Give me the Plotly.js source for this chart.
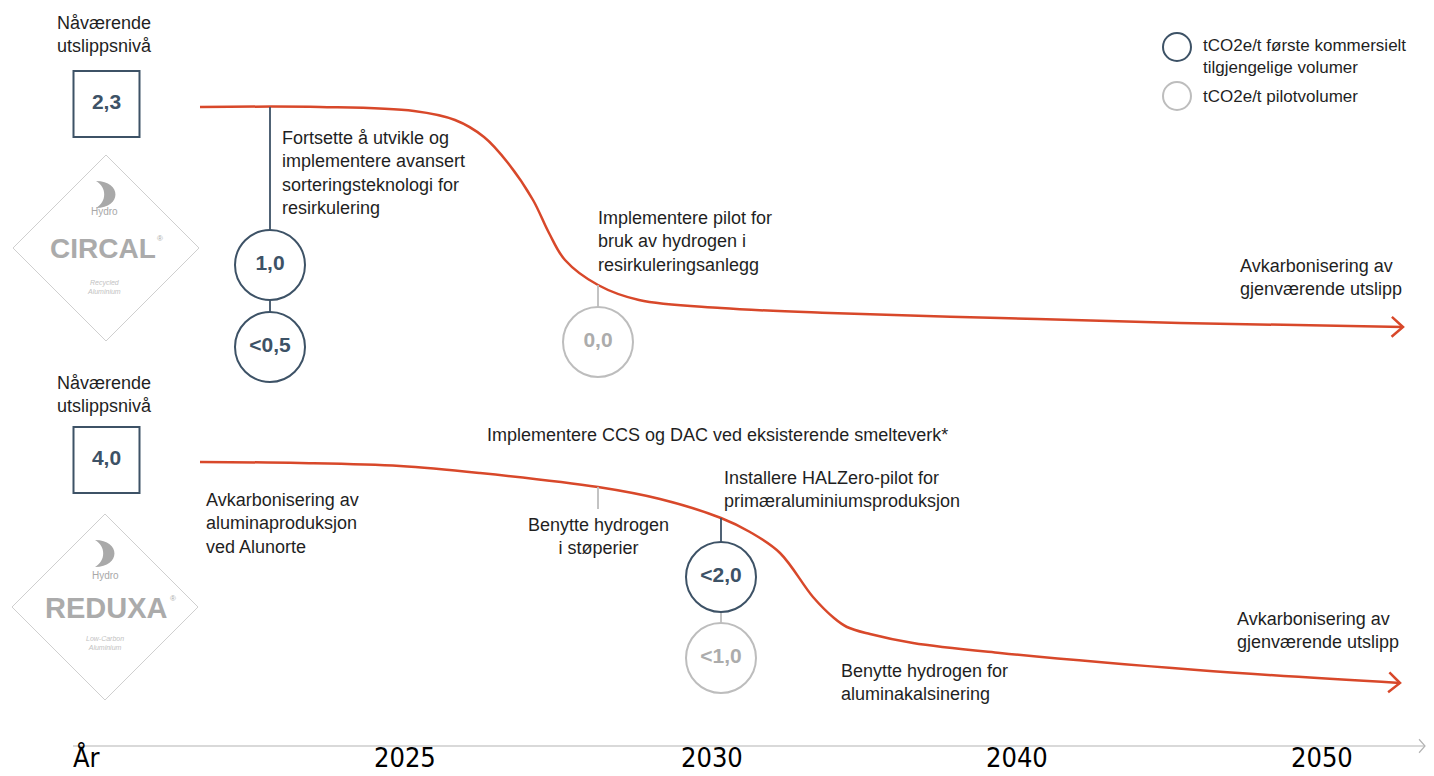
<!DOCTYPE html>
<html>
<head>
<meta charset="utf-8">
<script src="https://cdn.plot.ly/plotly-3.0.1.min.js"></script>
<style>
  html, body { margin: 0; padding: 0; background: #ffffff; }
  #chart { width: 1434px; height: 776px; }
</style>
</head>
<body>
<div id="chart"></div>
<script>
// Roadmap chart: emission path for CIRCAL (top) and REDUXA (bottom)
// The plot area is laid out on a 1434 x 776 canvas grid (x right, y down).

// --- data -------------------------------------------------------------

// timeline tick labels along the bottom axis
const yearLabels = ['2025', '2030', '2040', '2050'];
const yearPos = [405, 712, 1017, 1322];

// current emission level (tCO2e/t) for each product
const currentLevels = ['2,3', '4,0'];
const currentLevelY = [104, 460];

// CIRCAL path (top curve)
const circalX = [200, 320, 414, 455, 484, 508, 533, 549, 565, 598, 639, 721, 830, 1000, 1180, 1403];
const circalY = [107, 107, 111, 120, 137, 163, 200, 233, 260, 285, 300, 308, 313, 318, 323, 327];

// REDUXA path (bottom curve)
const reduxaX = [200, 300, 400, 480, 598, 660, 721, 750, 780, 813, 834, 847, 870, 913, 1000, 1197, 1400];
const reduxaY = [462, 463, 466, 473, 487, 499, 518, 532, 553, 597, 618, 627, 634, 643, 653, 670, 683];

// milestone values (circles); kind: 'commercial' or 'pilot'
const milestoneX = [270, 270, 598, 721, 721];
const milestoneY = [265, 347, 342, 577, 658];
const milestoneLabel = ['1,0', '<0,5', '0,0', '<2,0', '<1,0'];
const milestoneKind = ['commercial', 'commercial', 'pilot', 'commercial', 'pilot'];

// stems joining curve and milestones
const stemX = [270, 598, 598, 721, 721];
const stemFrom = [107, 285, 487, 518, 577];
const stemTo = [347, 342, 509, 577, 658];
const stemKind = ['commercial', 'pilot', 'pilot', 'commercial', 'pilot'];

// --- styles -----------------------------------------------------------

const FONT = 'Liberation Sans, Arial, Helvetica, sans-serif';
const NARROW = "'Liberation Sans Narrow', 'Arial Narrow', 'DejaVu Sans Condensed', sans-serif";
const RED = '#d8482a';
const DARK = '#3d5266';
const GRAY = '#bdbdbd';
const GRAY_TEXT = '#acacac';
const TEXT = '#1f1f1f';
const kindColor = { commercial: DARK, pilot: GRAY };
const kindText = { commercial: DARK, pilot: GRAY_TEXT };

// --- traces -----------------------------------------------------------

const traces = [];

// emission curves
[[circalX, circalY], [reduxaX, reduxaY]].forEach(([xs, ys]) => {
    traces.push({
        x: xs, y: ys, type: 'scatter', mode: 'lines',
        line: { color: RED, width: 2.5, shape: 'spline', smoothing: 1 },
        hoverinfo: 'skip'
    });
});

// stems
stemX.forEach((x, i) => {
    traces.push({
        x: [x, x], y: [stemFrom[i], stemTo[i]], type: 'scatter', mode: 'lines',
        line: { color: kindColor[stemKind[i]], width: 1.8 },
        hoverinfo: 'skip'
    });
});

// milestone circles
traces.push({
    x: milestoneX, y: milestoneY, type: 'scatter', mode: 'markers+text',
    text: milestoneLabel, textposition: 'middle center',
    textfont: { family: FONT, size: 21, weight: 'bold', color: milestoneKind.map(k => kindText[k]) },
    marker: {
        symbol: 'circle', size: 70, color: '#ffffff',
        line: { width: 2, color: milestoneKind.map(k => kindColor[k]) }
    },
    hoverinfo: 'skip'
});

// current level boxes
traces.push({
    x: currentLevelY.map(() => 106.5), y: currentLevelY, type: 'scatter', mode: 'markers+text',
    text: currentLevels, textposition: 'middle center',
    textfont: { family: FONT, size: 21, weight: 'bold', color: DARK },
    marker: { symbol: 'square', size: 66, color: '#ffffff', line: { width: 2, color: DARK } },
    hoverinfo: 'skip'
});

// legend circles
traces.push({
    x: [1177, 1177], y: [47, 96], type: 'scatter', mode: 'markers',
    marker: { symbol: 'circle', size: 28, color: '#ffffff', line: { width: 2, color: [DARK, GRAY] } },
    hoverinfo: 'skip'
});

// --- shapes -----------------------------------------------------------

/**
 * Open chevron at the end of a polyline, pointing along its last segment
 */
function chevron(xs, ys, len, spread, color, width) {
    const n = xs.length;
    const tx = xs[n - 1], ty = ys[n - 1];
    const a = Math.atan2(ty - ys[n - 2], tx - xs[n - 2]) + Math.PI;
    const p1 = [tx + len * Math.cos(a + spread), ty + len * Math.sin(a + spread)];
    const p2 = [tx + len * Math.cos(a - spread), ty + len * Math.sin(a - spread)];
    return {
        type: 'path', layer: 'above',
        path: `M${p1[0]},${p1[1]} L${tx},${ty} L${p2[0]},${p2[1]}`,
        line: { color: color, width: width }
    };
}

/**
 * Diamond badge outline with a Hydro crescent
 */
function badge(cx, cy, half) {
    return [
        {
            type: 'path', layer: 'below',
            path: `M${cx},${cy - half} L${cx + half},${cy} L${cx},${cy + half} L${cx - half},${cy} Z`,
            line: { color: '#cfcfcf', width: 1 }, fillcolor: '#ffffff'
        },
        {
            type: 'path', layer: 'below',
            path: `M${cx - 10},${cy - 67} C${cx + 16},${cy - 67} ${cx + 16},${cy - 40} ${cx - 10},${cy - 40} ` +
                  `C${cx + 1},${cy - 46} ${cx + 1},${cy - 61} ${cx - 10},${cy - 67} Z`,
            line: { width: 0 }, fillcolor: '#a9a9a9'
        }
    ];
}

const axisX = [73, 1425];
const axisY = [746, 746];

const shapes = [
    ...badge(106, 248, 93),
    ...badge(105, 607, 93),
    {
        type: 'line', x0: axisX[0], x1: axisX[1], y0: axisY[0], y1: axisY[1],
        line: { color: '#b3b3b3', width: 1.2 }
    },
    chevron(axisX, axisY, 9, 0.85, '#b3b3b3', 1.2),
    chevron(circalX, circalY, 15, 0.72, RED, 2.5),
    chevron(reduxaX, reduxaY, 15, 0.72, RED, 2.5)
];

// --- annotations ------------------------------------------------------

function note(x, y, text, opts = {}) {
    return Object.assign({
        x: x, y: y, text: text, showarrow: false,
        xanchor: 'left', yanchor: 'middle', align: 'left',
        font: { family: FONT, size: 18, color: TEXT }
    }, opts);
}

const yearFont = { family: NARROW, size: 27, color: '#000000' };

const annotations = [
    note(104, 34, 'Nåværende<br>utslippsnivå', { xanchor: 'center', align: 'center' }),
    note(104, 394, 'Nåværende<br>utslippsnivå', { xanchor: 'center', align: 'center' }),

    note(280, 173, 'Fortsette å utvikle og<br>implementere avansert<br>sorteringsteknologi for<br>resirkulering'),
    note(596, 241, 'Implementere pilot for<br>bruk av hydrogen i<br>resirkuleringsanlegg'),
    note(1238, 277, 'Avkarbonisering av<br>gjenværende utslipp'),

    note(204, 523, 'Avkarbonisering av<br>aluminaproduksjon<br>ved Alunorte'),
    note(485, 435, 'Implementere CCS og DAC ved eksisterende smelteverk*'),
    note(598, 536, 'Benytte hydrogen<br>i støperier', { xanchor: 'center', align: 'center' }),
    note(722, 489, 'Installere HALZero-pilot for<br>primæraluminiumsproduksjon'),
    note(839, 682, 'Benytte hydrogen for<br>aluminakalsinering'),
    note(1235, 630, 'Avkarbonisering av<br>gjenværende utslipp'),

    // legend
    note(1201, 56, 'tCO2e/t første kommersielt<br>tilgjengelige volumer', { font: { family: FONT, size: 17, color: TEXT } }),
    note(1201, 96, 'tCO2e/t pilotvolumer', { font: { family: FONT, size: 17, color: TEXT } }),

    // badge texts
    note(104, 211, 'Hydro', { xanchor: 'center', font: { family: FONT, size: 10, color: '#a8a8a8' } }),
    note(103, 248, 'CIRCAL', { xanchor: 'center', font: { family: FONT, size: 28, weight: 'bold', color: '#ababab' } }),
    note(160, 238, '®', { xanchor: 'center', font: { family: FONT, size: 8, color: '#ababab' } }),
    note(104, 287, 'Recycled<br>Aluminium', { xanchor: 'center', align: 'center', font: { family: FONT, size: 7, style: 'italic', color: '#c2c2c2' } }),
    note(105, 575, 'Hydro', { xanchor: 'center', font: { family: FONT, size: 10, color: '#a8a8a8' } }),
    note(106, 608, 'REDUXA', { xanchor: 'center', font: { family: FONT, size: 29, weight: 'bold', color: '#ababab' } }),
    note(173, 598, '®', { xanchor: 'center', font: { family: FONT, size: 8, color: '#ababab' } }),
    note(105, 643, 'Low-Carbon<br>Aluminium', { xanchor: 'center', align: 'center', font: { family: FONT, size: 7, style: 'italic', color: '#c2c2c2' } }),

    // timeline labels
    note(71, 775, 'År', { yanchor: 'bottom', font: yearFont }),
    ...yearLabels.map((label, i) => note(yearPos[i], 775, label, {
        xanchor: 'center', yanchor: 'bottom', font: yearFont
    }))
];

// --- layout -----------------------------------------------------------

const layout = {
    width: 1434,
    height: 776,
    margin: { l: 0, r: 0, t: 0, b: 0, pad: 0 },
    paper_bgcolor: '#ffffff',
    plot_bgcolor: '#ffffff',
    showlegend: false,
    xaxis: { range: [0, 1434], visible: false, fixedrange: true },
    yaxis: { range: [776, 0], visible: false, fixedrange: true },
    shapes: shapes,
    annotations: annotations
};

Plotly.newPlot('chart', traces, layout, { staticPlot: true, displayModeBar: false });
</script>
</body>
</html>
